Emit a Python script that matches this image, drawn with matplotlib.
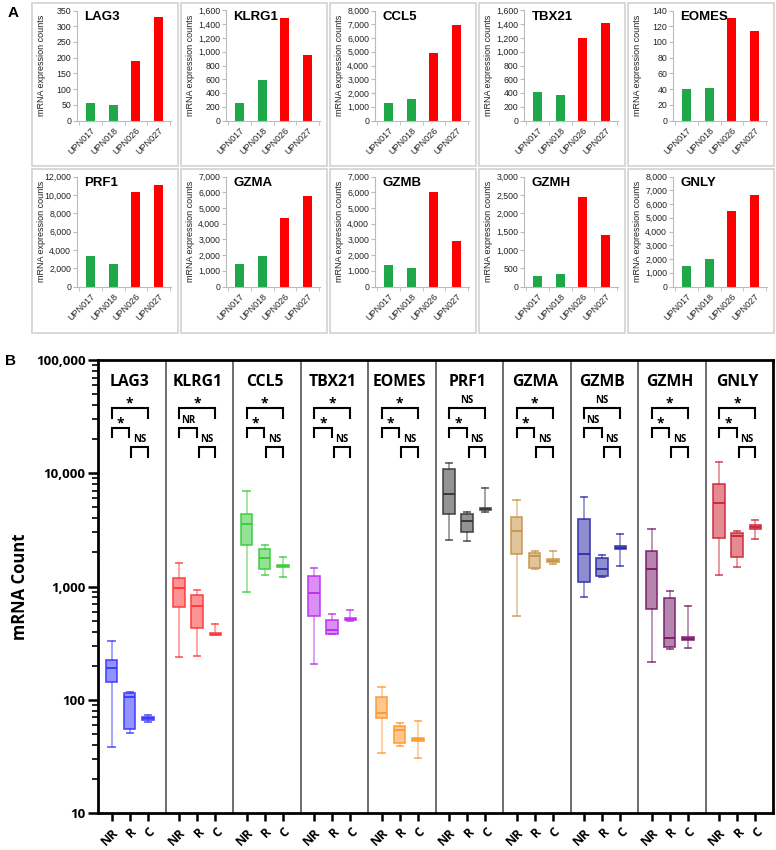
import numpy as np
import matplotlib
matplotlib.use("Agg")
import matplotlib.pyplot as plt
from matplotlib.patches import Rectangle
from matplotlib.ticker import FuncFormatter, LogLocator, NullFormatter, MultipleLocator
import matplotlib.transforms as mtrans

# ---- panel A data (mRNA expression counts per patient) ----
patients = ["UPN017", "UPN018", "UPN026", "UPN027"]
genes_a = ["LAG3", "KLRG1", "CCL5", "TBX21", "EOMES",
           "PRF1", "GZMA", "GZMB", "GZMH", "GNLY"]
lag3_counts = [56, 50, 189, 328]
klrg1_counts = [249, 594, 1487, 956]
ccl5_counts = [1265, 1535, 4900, 6975]
tbx21_counts = [419, 366, 1195, 1424]
eomes_counts = [40, 42, 130, 114]
prf1_counts = [3350, 2480, 10300, 11060]
gzma_counts = [1445, 1955, 4350, 5730]
gzmb_counts = [1380, 1170, 6045, 2910]
gzmh_counts = [275, 340, 2430, 1400]
gnly_counts = [1455, 2035, 5525, 6670]
axis_max = [350, 1600, 8000, 1600, 140, 12000, 7000, 7000, 3000, 8000]
axis_step = [50, 200, 1000, 200, 20, 2000, 1000, 1000, 500, 1000]

# ---- panel B data: [whislo, q1, med, q3, whishi] for NR, R, C ----
groups = ["NR", "R", "C"]
genes_b = ["LAG3", "KLRG1", "CCL5", "TBX21", "EOMES",
           "PRF1", "GZMA", "GZMB", "GZMH", "GNLY"]
lag3_box = [[38, 143, 190, 225, 330], [51, 55, 105, 114, 116], [63, 66, 69, 71, 74]]
klrg1_box = [[240, 664, 965, 1200, 1620], [245, 427, 676, 840, 930], [370, 372, 380, 390, 463]]
ccl5_box = [[888, 2320, 3540, 4360, 6970], [1265, 1430, 1770, 2130, 2320], [1220, 1500, 1530, 1560, 1830]]
tbx21_box = [[207, 550, 871, 1245, 1450], [378, 380, 413, 506, 569], [500, 505, 516, 530, 620]]
eomes_box = [[34, 68.5, 77, 105, 130], [39, 41.3, 54, 58.6, 62.7], [30.8, 43.5, 44.8, 46, 65.3]]
prf1_box = [[2580, 4340, 6520, 10840, 12250], [2540, 3010, 3810, 4340, 4520], [4520, 4700, 4830, 4980, 7450]]
gzma_box = [[550, 1940, 3090, 4130, 5800], [1420, 1450, 1870, 1960, 2070], [1570, 1640, 1690, 1740, 2060]]
gzmb_box = [[804, 1090, 1920, 3920, 6140], [1220, 1245, 1420, 1770, 1900], [1530, 2130, 2200, 2280, 2890]]
gzmh_box = [[214, 632, 1435, 2070, 3200], [279, 294, 349, 797, 912], [284, 335, 344, 355, 677]]
gnly_box = [[1265, 2670, 5500, 8040, 12650], [1500, 1810, 2820, 2950, 3100], [2620, 3250, 3380, 3500, 3860]]
# significance: (NR vs C, NR vs R, R vs C)
sig_labels = [("*", "*", "NS"), ("*", "NR", "NS"), ("*", "*", "NS"), ("*", "*", "NS"),
              ("*", "*", "NS"), ("NS", "*", "NS"), ("*", "*", "NS"), ("NS", "NS", "NS"),
              ("*", "*", "NS"), ("*", "*", "NS")]

box_colors = ["#3b3bff", "#ff3b3b", "#3dcc3d", "#bb33ee", "#ff9933",
              "#3a3a3a", "#c8964b", "#3030a8", "#7a1f6a", "#cc2a3a"]

W, H = 776, 850


def px(x0, y0, w, h):
    return [x0 / W, 1 - (y0 + h) / H, w / W, h / H]


fig = plt.figure(figsize=(W / 100, H / 100), dpi=100)
fig.patch.set_facecolor("white")

# ---------------- panel A ----------------
counts_a = [lag3_counts, klrg1_counts, ccl5_counts, tbx21_counts, eomes_counts,
            prf1_counts, gzma_counts, gzmb_counts, gzmh_counts, gnly_counts]
box_left = [32, 181, 330, 479, 628]
row_top = [3, 169]
row_h = [163, 164]
bar_colors = ["#1fa84a", "#1fa84a", "#ff0000", "#ff0000"]
fa = "Liberation Sans"

for k, gene in enumerate(genes_a):
    r, c = divmod(k, 5)
    bx, by = box_left[c], row_top[r]
    fig.patches.append(Rectangle((bx / W, 1 - (by + row_h[r]) / H), 146 / W, row_h[r] / H,
                                 transform=fig.transFigure, fill=False,
                                 edgecolor="#d2d2d2", linewidth=1.2))
    ax = fig.add_axes(px(bx + 45, by + 7.5, 94, 110))
    x = np.arange(len(patients))
    ax.bar(x, counts_a[k], width=0.4, color=bar_colors)
    ax.set_xlim(-0.6, 3.55)
    ax.set_ylim(0, axis_max[k])
    ax.yaxis.set_major_locator(MultipleLocator(axis_step[k]))
    ax.yaxis.set_major_formatter(FuncFormatter(lambda v, p: f"{int(v):,}"))
    ax.set_xticks(x)
    ax.set_xticklabels(patients, rotation=45, ha="right", rotation_mode="anchor",
                       fontsize=6.5, family=fa, color="#222222")
    ax.set_xticks([-0.5, 0.5, 1.5, 2.5, 3.5], minor=True)
    ax.tick_params(axis="x", which="major", length=0, pad=4)
    ax.tick_params(axis="x", which="minor", length=3, color="#bbbbbb")
    ax.tick_params(axis="y", length=3, color="#bbbbbb", pad=1.2, labelsize=6.3,
                   labelcolor="#222222")
    for lbl in ax.get_yticklabels():
        lbl.set_family(fa)
    for s in ["top", "right"]:
        ax.spines[s].set_visible(False)
    for s in ["left", "bottom"]:
        ax.spines[s].set_color("#bbbbbb")
        ax.spines[s].set_linewidth(0.8)
    ax.set_ylabel("mRNA expression counts", fontsize=6.5, family=fa, color="#222222")
    ax.yaxis.set_label_coords(-0.33, 0.5)
    ax.text(0.08, 0.94, gene, transform=ax.transAxes, fontsize=9.5, fontweight="bold",
            family=fa, va="center", ha="left")

fig.text(13 / W, 1 - 13 / H, "A", fontsize=11, fontweight="bold", family=fa,
         ha="center", va="center")
fig.text(10 / W, 1 - 361 / H, "B", fontsize=11, fontweight="bold", family=fa,
         ha="center", va="center")

# ---------------- panel B ----------------
fb = "Open Sans"
boxes_b = [lag3_box, klrg1_box, ccl5_box, tbx21_box, eomes_box,
           prf1_box, gzma_box, gzmb_box, gzmh_box, gnly_box]
offsets = [0.2, 0.47, 0.74]

axb = fig.add_axes(px(98, 360, 675, 453))
axb.set_yscale("log")
axb.set_ylim(10, 100000)
axb.set_xlim(0, 10)

tick_pos, tick_lab = [], []
for i, gene in enumerate(genes_b):
    col = box_colors[i]
    stats = []
    for g, vals in zip(groups, boxes_b[i]):
        lo, q1, med, q3, hi = vals
        stats.append(dict(whislo=lo, q1=q1, med=med, q3=q3, whishi=hi, label=g))
    pos = [i + o for o in offsets]
    tick_pos += pos
    tick_lab += groups
    axb.bxp(stats, positions=pos, widths=0.17, capwidths=0.09, showfliers=False,
            patch_artist=True,
            boxprops=dict(facecolor=matplotlib.colors.to_rgba(col, 0.55),
                          edgecolor=matplotlib.colors.to_rgba(col, 0.9), linewidth=1.2),
            medianprops=dict(color=col, linewidth=1.4),
            whiskerprops=dict(color=matplotlib.colors.to_rgba(col, 0.55), linewidth=1.2),
            capprops=dict(color=matplotlib.colors.to_rgba(col, 0.7), linewidth=1.4),
            manage_ticks=False)
    if i > 0:
        axb.axvline(i, color="#555555", linewidth=1.2)

    trans = mtrans.blended_transform_factory(axb.transData, axb.transAxes)
    axb.text(i + 0.47, 0.951, gene, transform=trans, ha="center", va="center",
             fontsize=11.3, fontweight="bold", family=fb)
    top, left, right = sig_labels[i]
    brackets = [(pos[0], pos[2], 0.894, 0.872, top),
                (pos[0], pos[1] - 0.005, 0.850, 0.830, left),
                (pos[1] + 0.02, pos[2], 0.808, 0.786, right)]
    for x0, x1, yb, yl, lab in brackets:
        axb.plot([x0, x0, x1, x1], [yl, yb, yb, yl], transform=trans, color="black",
                 linewidth=1.5, solid_joinstyle="miter", clip_on=False)
        if lab == "*":
            axb.text((x0 + x1) / 2, yb - 0.006, "*", transform=trans, ha="center",
                     va="bottom", fontsize=10, fontweight="bold", family=fb)
        else:
            axb.text((x0 + x1) / 2, yb + 0.004, lab, transform=trans, ha="center",
                     va="bottom", fontsize=7, fontweight="bold", family=fb)

axb.set_xticks(tick_pos)
axb.set_xticklabels(tick_lab, rotation=45, ha="right", rotation_mode="anchor",
                    fontsize=9, fontweight="bold", family=fb)
axb.tick_params(axis="x", length=6, width=1.8, pad=3)
axb.yaxis.set_major_locator(LogLocator(base=10, numticks=10))
axb.yaxis.set_minor_locator(LogLocator(base=10, subs=np.arange(2, 10), numticks=20))
axb.yaxis.set_minor_formatter(NullFormatter())
axb.yaxis.set_major_formatter(FuncFormatter(lambda v, p: f"{int(round(v)):,}"))
axb.tick_params(axis="y", which="major", length=7, width=1.8, labelsize=9.5, pad=2)
axb.tick_params(axis="y", which="minor", length=4, width=1.2)
for lbl in axb.get_yticklabels():
    lbl.set_family(fb)
    lbl.set_fontweight("bold")
for s in axb.spines.values():
    s.set_linewidth(2)
axb.set_ylabel("mRNA Count", fontsize=12, fontweight="bold", family=fb)
axb.yaxis.set_label_coords(-0.102, 0.5)

fig.savefig("out.png", dpi=100)
